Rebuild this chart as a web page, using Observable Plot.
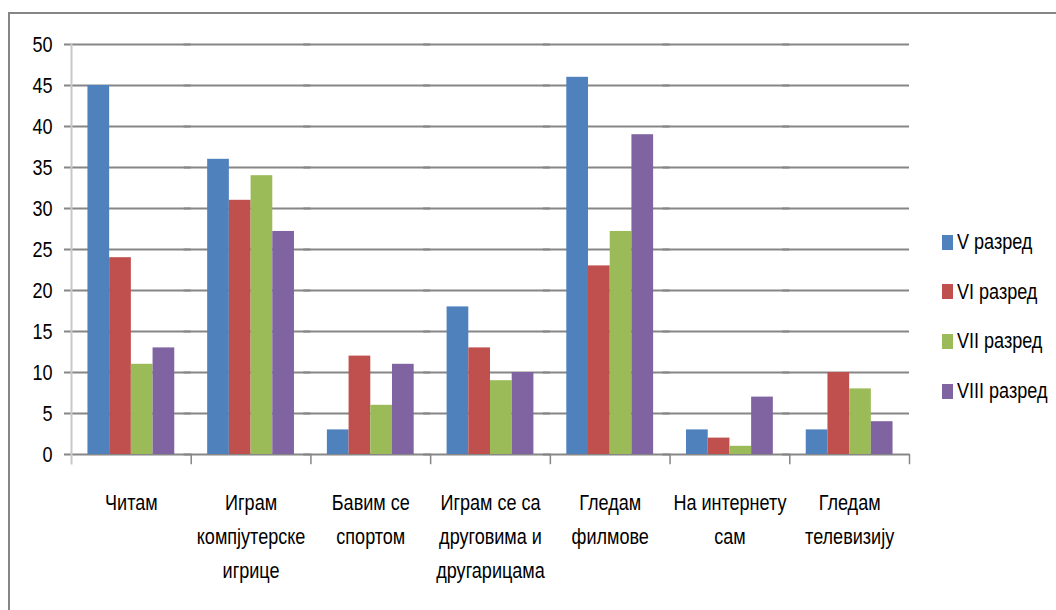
<!DOCTYPE html>
<html>
<head>
<meta charset="utf-8">
<script src="https://cdn.jsdelivr.net/npm/d3@7"></script>
<script src="https://cdn.jsdelivr.net/npm/@observablehq/plot@0.6"></script>
<style>
  html, body { margin: 0; padding: 0; background: #fff; }
  #wrap { position: relative; width: 1056px; height: 610px; overflow: hidden;
          font-family: "Liberation Sans", Arial, sans-serif; }
  #frame { position: absolute; left: 8px; top: 12px; right: -4px; bottom: -4px;
           border-top: 2px solid #868686; border-left: 2px solid #868686; pointer-events: none; }
  #legend { position: absolute; left: 942px; top: 228px; }
  .item { position: absolute; left: 0; white-space: nowrap; display: flex; align-items: center;
          height: 24px; font-size: 22px; color: #000; }
  .item .sw { width: 11px; height: 15px; margin-right: 4px; flex: none; }
  .item .lbl { display: inline-block; transform: scaleX(0.82); transform-origin: left center; }
</style>
</head>
<body>
<div id="wrap"><div id="frame"></div><div id="chart"></div><div id="legend"></div></div>
<script>
const categories = ["Читам", "Играм компјутерске игрице", "Бавим се спортом", "Играм се са друговима и другарицама", "Гледам филмове", "На интернету сам", "Гледам телевизију"];
const categoryLabels = ["Читам", "Играм\nкомпјутерске\nигрице", "Бавим се\nспортом", "Играм се са\nдруговима и\nдругарицама", "Гледам\nфилмове", "На интернету\nсам", "Гледам\nтелевизију"];
const seriesNames = ["V разред", "VI разред", "VII разред", "VIII разред"];
const seriesColors = ["#4F81BD", "#C0504D", "#9BBB59", "#8064A2"];
const valuesV    = [45, 36, 3, 18, 46, 3, 3];
const valuesVI   = [24, 31, 12, 13, 23, 2, 10];
const valuesVII  = [11, 34, 6, 9, 27.2, 1, 8];
const valuesVIII = [13, 27.2, 11, 10, 39, 7, 4];
const yTicks = [0, 5, 10, 15, 20, 25, 30, 35, 40, 45, 50];

const seriesValues = [valuesV, valuesVI, valuesVII, valuesVIII];
const data = [];
categories.forEach((c, i) => seriesNames.forEach((s, j) => data.push({category: c, series: s, value: seriesValues[j][i]})));

const W = 1056, H = 610, mt = 44, mb = 156, ml = 71, mr = 147;
const plotH = H - mt - mb;
const squeeze = 0.82;

const chart = Plot.plot({
  width: W, height: H,
  marginTop: mt, marginBottom: mb, marginLeft: ml, marginRight: mr,
  style: {fontFamily: '"Liberation Sans", Arial, sans-serif', fontSize: "22px", color: "#000", background: "transparent"},
  fx: {domain: categories, padding: 0, axis: null, round: false},
  x: {domain: seriesNames, paddingInner: 0, paddingOuter: 0.758, axis: null, round: false},
  y: {domain: [0, 50], ticks: yTicks, tickSize: 0, tickPadding: 19, label: null},
  color: {domain: seriesNames, range: seriesColors},
  marks: [
    Plot.ruleY(yTicks, {stroke: "#868686", strokeWidth: 2, insetLeft: -7}),
    Plot.frame({anchor: "left", fx: () => categories[0], stroke: "#c8c8c8", strokeWidth: 2, insetBottom: -9}),
    Plot.frame({anchor: "right", stroke: "#868686", strokeWidth: 1.5, insetTop: plotH, insetBottom: -9}),
    Plot.barY(data, {fx: "category", x: "series", y: "value", fill: "series"}),
    Plot.text(categories, {fx: d => d, text: (d, i) => categoryLabels[i], frameAnchor: "bottom", lineAnchor: "top", dy: 31, lineHeight: 1.55, fontSize: 22, fill: "#000"})
  ]
});
document.getElementById("chart").appendChild(chart);

// narrow the glyphs horizontally (condensed look of the original font)
chart.querySelectorAll("text").forEach(t => {
  const spans = t.querySelectorAll("tspan");
  const targets = spans.length ? Array.from(spans) : [t];
  targets.forEach(el => {
    const len = el.getComputedTextLength();
    if (len > 0) {
      el.setAttribute("textLength", len * squeeze);
      el.setAttribute("lengthAdjust", "spacingAndGlyphs");
    }
  });
});

const legend = document.getElementById("legend");
seriesNames.forEach((s, j) => {
  const it = document.createElement("div");
  it.className = "item";
  it.style.top = (j * 49.7 + 2) + "px";
  it.innerHTML = `<span class="sw" style="background:${seriesColors[j]}"></span><span class="lbl">${s}</span>`;
  legend.appendChild(it);
});
</script>
</body>
</html>
